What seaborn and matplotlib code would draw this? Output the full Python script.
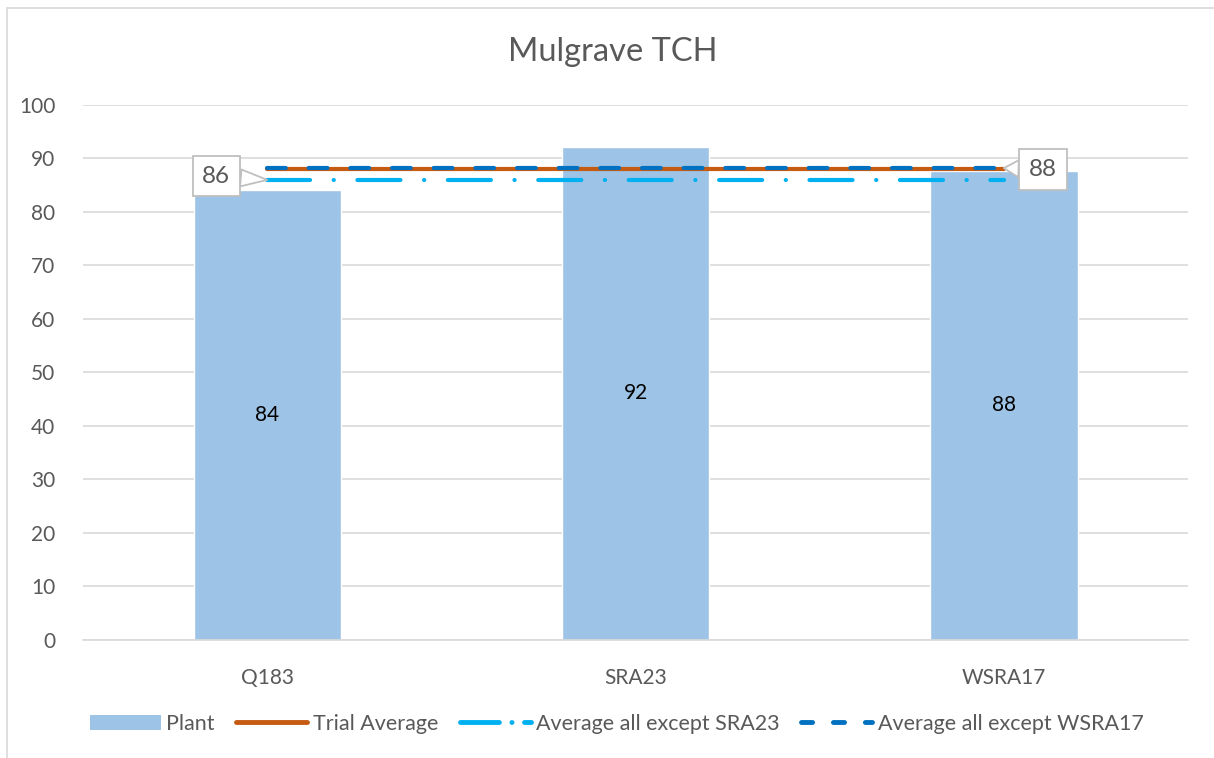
import matplotlib
matplotlib.use('Agg')
import matplotlib.pyplot as plt
from matplotlib.lines import Line2D
from matplotlib.patches import Patch, Rectangle
import seaborn as sns
import pandas as pd

# Data
categories = ['Q183', 'SRA23', 'WSRA17']
plant = [84.2, 92.2, 87.7]
trial_average = 88.0
avg_except_sra23 = 86.0
avg_except_wsra17 = 88.2

sns.set_style('white')
plt.rcParams['font.family'] = ['Lato', 'DejaVu Sans']
plt.rcParams['lines.scale_dashes'] = False

grey_text = '#595959'
grid_col = '#D9D9D9'

fig = plt.figure(figsize=(12.14, 7.58), dpi=100)
ax = fig.add_axes([0.0684, 0.1557, 0.9102, 0.7058])

df = pd.DataFrame({'Variety': categories, 'Plant': plant})
sns.barplot(data=df, x='Variety', y='Plant', color='#9DC3E6', saturation=1,
            width=0.40, ax=ax, zorder=2)

xs = list(range(len(categories)))
ax.plot(xs, [trial_average] * len(xs), color='#C55A11', lw=3, solid_capstyle='round', zorder=3)
ax.plot(xs, [avg_except_sra23] * len(xs), color='#00B0F0', lw=3,
        dashes=(31, 17, 0.1, 17), dash_capstyle='round', zorder=4)
ax.plot(xs, [avg_except_wsra17] * len(xs), color='#0070C0', lw=3,
        dashes=(13.5, 16.5), dash_capstyle='round', zorder=5)

# bar value labels in the middle of each bar
for i, v in enumerate(plant):
    ax.text(i, v / 2, f'{v:.0f}', ha='center', va='center', fontsize=15, color='black', zorder=6)

# callouts
box = dict(boxstyle='square,pad=0.4', fc='white', ec='#BFBFBF', lw=1.3)
wedge = dict(arrowstyle='wedge,tail_width=0.7', fc='white', ec='#BFBFBF', lw=1.3,
             shrinkA=0, shrinkB=0)
ax.annotate(f'{avg_except_sra23:.0f}', xy=(0, avg_except_sra23), xytext=(-0.138, 86.7),
            ha='center', va='center', fontsize=17.5, color=grey_text, bbox=box,
            arrowprops=wedge, zorder=7)
ax.annotate(f'{avg_except_wsra17:.0f}', xy=(2, avg_except_wsra17), xytext=(2.106, 87.9),
            ha='center', va='center', fontsize=17.5, color=grey_text, bbox=box,
            arrowprops=wedge, zorder=7)

ax.set_xlim(-0.5, 2.5)
ax.set_ylim(0, 100)
ax.set_yticks(range(0, 101, 10))
ax.yaxis.grid(True, color=grid_col, lw=1.2, zorder=0)
ax.set_axisbelow(True)
for s in ['top', 'right', 'left']:
    ax.spines[s].set_visible(False)
ax.spines['bottom'].set_color(grid_col)
ax.spines['bottom'].set_linewidth(1.2)
ax.tick_params(axis='both', length=0, labelsize=15, colors=grey_text)
ax.tick_params(axis='y', pad=20)
ax.tick_params(axis='x', pad=20)
ax.set_xlabel('')
ax.set_ylabel('')

fig.text(0.505, 0.931, 'Mulgrave TCH', ha='center', va='center', fontsize=23.5, color=grey_text)

handles = [
    Patch(facecolor='#9DC3E6', edgecolor='none'),
    Line2D([], [], color='#C55A11', lw=3.5, solid_capstyle='round'),
    Line2D([], [], color='#00B0F0', lw=3.5, dashes=(28, 9, 0.1, 9), dash_capstyle='round'),
    Line2D([], [], color='#0070C0', lw=3.5, dashes=(8, 15), dash_capstyle='round'),
]
labels = ['Plant', 'Trial Average', 'Average all except SRA23', 'Average all except WSRA17']
fig.legend(handles, labels, loc='center', bbox_to_anchor=(0.508, 0.045), ncol=4, frameon=False,
           fontsize=15.5, labelcolor=grey_text, handlelength=3.3, handletextpad=0.25,
           columnspacing=1.0)

fig.add_artist(Rectangle((0.006, -0.01), 1.2, 1.0, transform=fig.transFigure, fill=False,
                         ec=grid_col, lw=1.2))

fig.savefig('out.png', dpi=100)
